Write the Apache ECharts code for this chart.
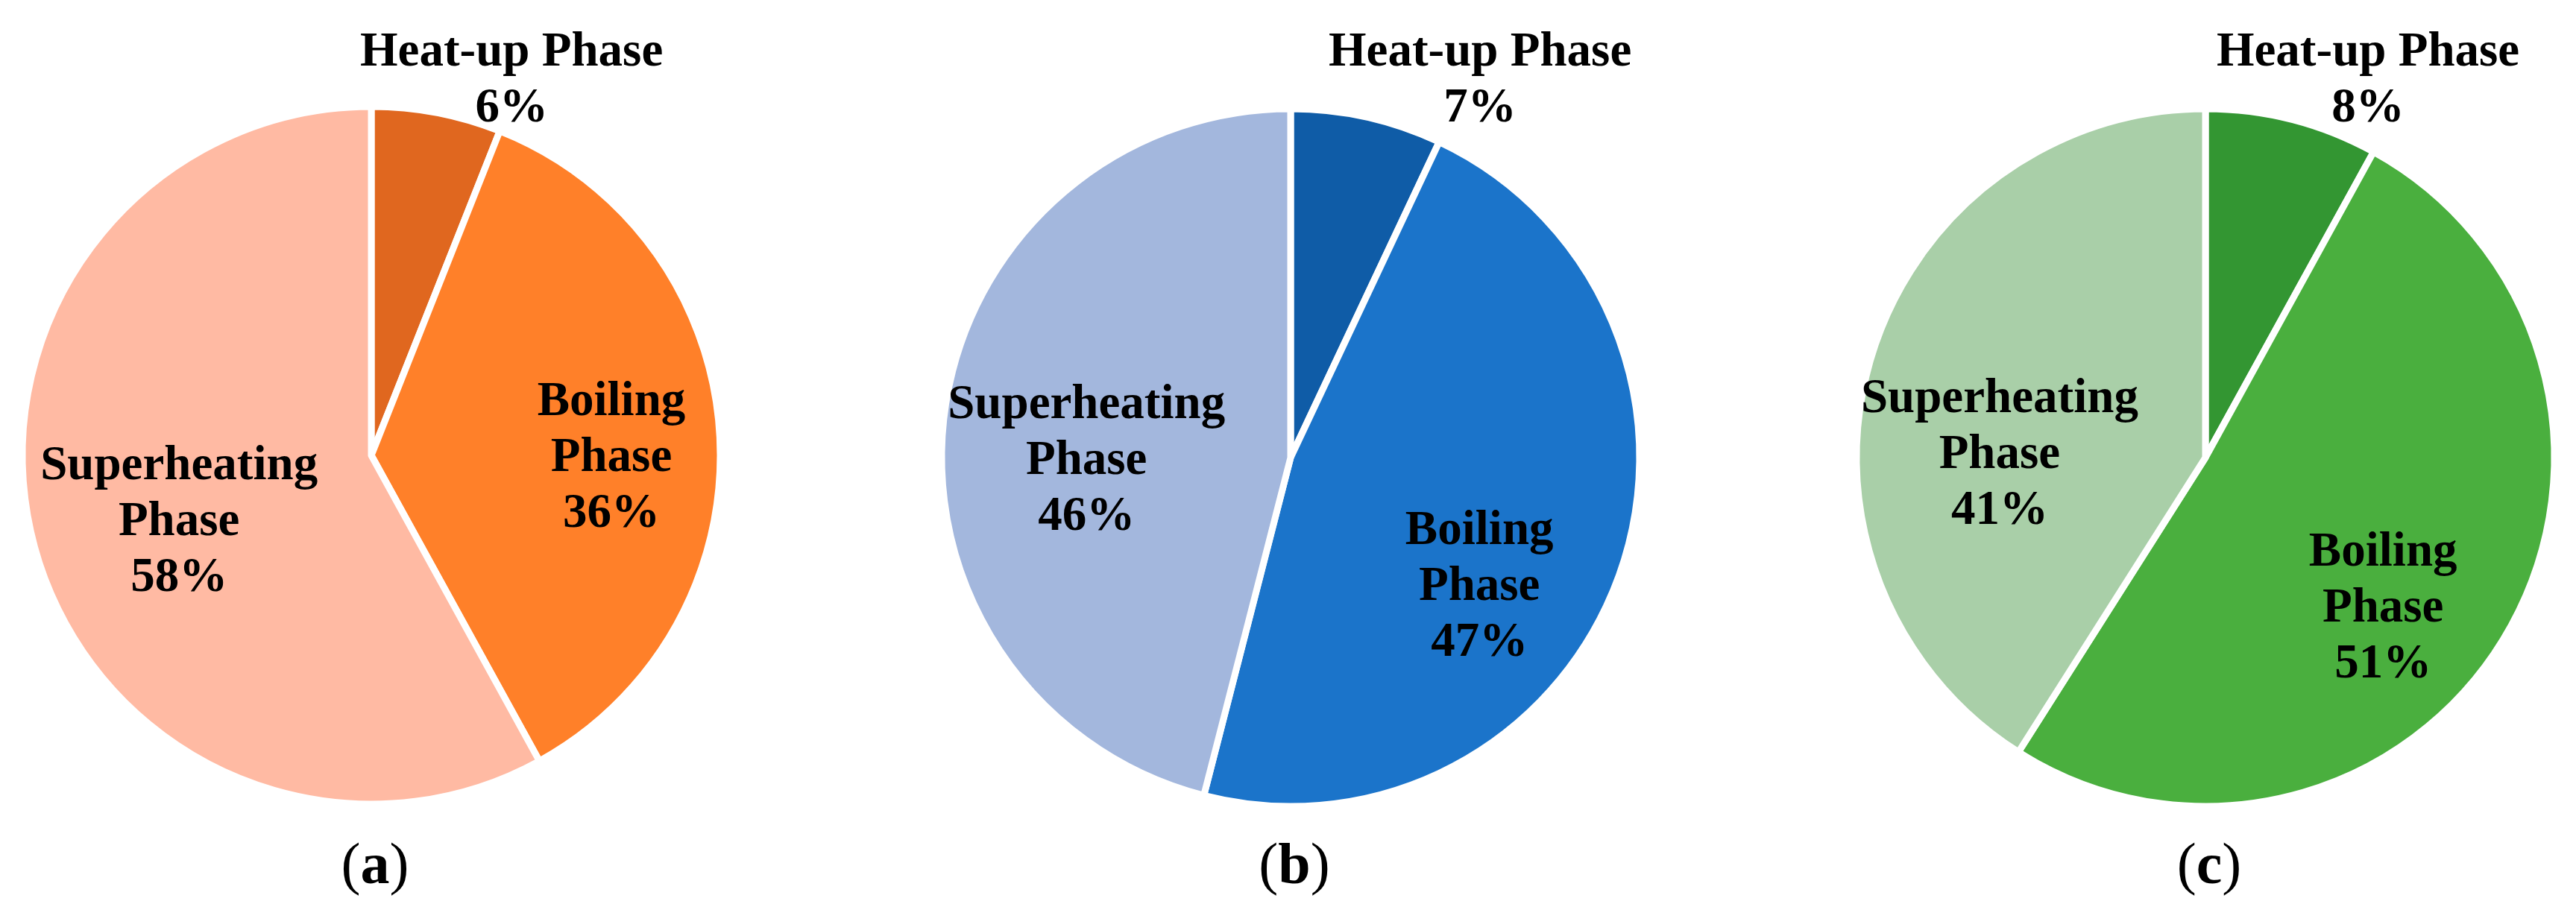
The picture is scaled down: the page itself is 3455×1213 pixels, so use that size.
<!DOCTYPE html>
<html>
<head>
<meta charset="utf-8">
<script src="https://cdn.jsdelivr.net/npm/echarts@6/dist/echarts.min.js"></script>
<style>
  html, body { margin: 0; padding: 0; background: #fff; }
  #chart { width: 3455px; height: 1213px; }
</style>
</head>
<body>
<div id="chart"></div>
<script>
// phases, clockwise from 12 o'clock
var phases = ['Heat-up Phase', 'Boiling Phase', 'Superheating Phase'];
var shareA = [6, 36, 58];
var shareB = [7, 47, 46];
var shareC = [8, 51, 41];
var panels = ['a', 'b', 'c'];

// colours per panel (heat-up, boiling, superheating)
var colorsA = ['#E0671F', '#FF8029', '#FFBAA3'];
var colorsB = ['#0F5CA7', '#1B74CA', '#A3B7DD'];
var colorsC = ['#339632', '#4AAF3E', '#A9CFA8'];

// layout
var R = 468;
var centers = [[498, 611], [1731, 614], [2958, 614]];
// label centre offsets as a fraction of the radius
var labelOff = [
  [[0.402, -1.073], [0.688, 0.009], [-0.551, 0.192]],
  [[0.543, -1.079], [0.541, 0.372], [-0.585, 0.011]],
  [[0.466, -1.079], [0.509, 0.434], [-0.590, -0.006]]
];

var font = "'Liberation Serif', 'Times New Roman', serif";

function buildSeries(values, colors, idx) {
  return {
    type: 'pie',
    center: centers[idx],
    radius: R,
    startAngle: 90,
    clockwise: true,
    silent: true,
    itemStyle: { borderColor: '#fff', borderWidth: 9 },
    label: {
      show: true,
      position: 'inside',
      color: '#000',
      fontFamily: font,
      fontWeight: 'bold',
      fontSize: 65,
      lineHeight: 75,
      formatter: function (p) {
        var name = p.dataIndex === 0 ? p.name : p.name.replace(' ', '\n');
        return name + '\n' + p.value + '%';
      }
    },
    labelLine: { show: false },
    labelLayout: function (p) {
      var off = labelOff[idx][p.dataIndex];
      return {
        x: centers[idx][0] + off[0] * R,
        y: centers[idx][1] + off[1] * R,
        align: 'center',
        verticalAlign: 'middle'
      };
    },
    data: values.map(function (v, i) {
      return { name: phases[i], value: v, itemStyle: { color: colors[i] } };
    })
  };
}

var option = {
  backgroundColor: '#fff',
  animation: false,
  title: panels.map(function (t, i) {
    return {
      text: '{p|(}{b|' + t + '}{p|)}',
      left: centers[i][0],
      top: 1121,
      textAlign: 'center',
      textStyle: {
        fontWeight: 'normal',
        rich: {
          p: { fontFamily: font, fontSize: 78, fontWeight: 'normal', color: '#000' },
          b: { fontFamily: font, fontSize: 78, fontWeight: 'bold', color: '#000' }
        }
      }
    };
  }),
  series: [
    buildSeries(shareA, colorsA, 0),
    buildSeries(shareB, colorsB, 1),
    buildSeries(shareC, colorsC, 2)
  ]
};

var chart = echarts.init(document.getElementById('chart'));
chart.setOption(option);
</script>
</body>
</html>
